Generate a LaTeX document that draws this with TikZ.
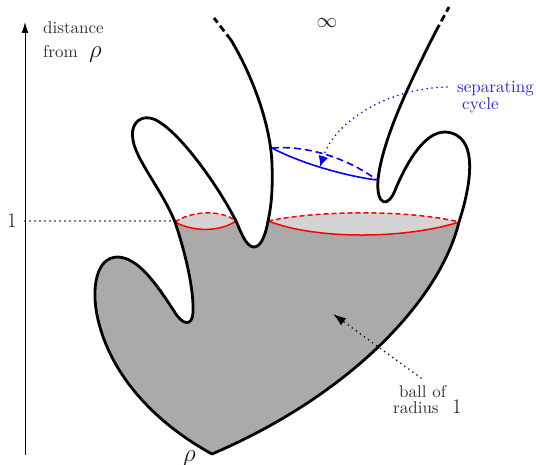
\documentclass[tikz,border=0pt]{standalone}
\usepackage{fontspec}
\newfontfamily\tenrm[Extension=.otf]{lmroman10-regular}
\usetikzlibrary{arrows.meta}
\tikzset{
  outline/.style={line width=2.8pt, line join=round, line cap=round},
  topdash/.style={line width=2.8pt, dash pattern=on 7pt off 4pt},
  redsolid/.style={red, line width=1.5pt},
  reddash/.style={red, line width=1.5pt, dash pattern=on 5pt off 3pt},
  bluesolid/.style={blue, line width=1.6pt},
  bluedash/.style={blue, line width=1.6pt, dash pattern=on 7pt off 4pt},
  dotline/.style={line width=1.8pt, dash pattern=on 0pt off 5pt, line cap=round},
  lbl/.style={font=\tenrm\fontsize{17}{20}\selectfont, text=black!80, inner sep=0pt, anchor=base west},
  bigsym/.style={font=\fontsize{24.88}{30}\selectfont, text=black!90, inner sep=0pt},
  midsym/.style={font=\fontsize{20.74}{24}\selectfont, text=black!90, inner sep=0pt},
}
\definecolor{ballgray}{gray}{0.665}
\definecolor{lensgray}{gray}{0.83}
\begin{document}
\begin{tikzpicture}[x=1pt,y=-1pt]
\useasboundingbox (0,0) rectangle (536,465);
% ball fill
\fill[ballgray] (175,222) .. controls (193,232) and (220,232) .. (236,221)
  .. controls (241,232) and (246,247) .. (254,247)
  .. controls (260,247) and (265,238) .. (268,221)
  .. controls (320,241) and (410,238) .. (459,222)
  .. controls (440,300) and (350,395) .. (212,454)
  .. controls (150,420) and (108,370) .. (97,315)
  .. controls (92,290) and (95,257) .. (118,257)
  .. controls (138,258) and (155,282) .. (174,311)
  .. controls (182,325) and (192,327) .. (193,313)
  .. controls (194,290) and (186,255) .. (175,222) -- cycle;
% lenses
\fill[lensgray] (175,222) .. controls (193,232) and (220,232) .. (236,221) .. controls (222,210) and (193,210) .. (175,222);
\fill[lensgray] (268,221) .. controls (320,241) and (410,238) .. (459,222) .. controls (410,210) and (320,210) .. (268,221);
\draw[redsolid] (175,222) .. controls (193,232) and (220,232) .. (236,221);
\draw[reddash] (175,222) .. controls (193,210) and (222,210) .. (236,221);
\draw[redsolid] (268,221) .. controls (320,241) and (410,238) .. (459,222);
\draw[reddash] (268,221) .. controls (320,210) and (410,210) .. (459,222);
% outline, left strand
\draw[outline] (231,40) .. controls (252,75) and (271,125) .. (272,165)
  .. controls (273,190) and (271,208) .. (268,221)
  .. controls (265,238) and (260,247) .. (254,247)
  .. controls (246,247) and (241,232) .. (236,221)
  .. controls (215,180) and (172,122) .. (150,118)
  .. controls (138,116) and (130,126) .. (133,140)
  .. controls (136,160) and (162,190) .. (175,222)
  .. controls (186,255) and (194,290) .. (193,313)
  .. controls (192,327) and (182,325) .. (174,311)
  .. controls (155,282) and (138,258) .. (118,257)
  .. controls (95,257) and (92,290) .. (97,315)
  .. controls (108,370) and (150,420) .. (212,454);
% outline, right strand
\draw[outline] (436,31) .. controls (410,82) and (382,140) .. (378,180)
  .. controls (376,205) and (388,210) .. (396,188)
  .. controls (408,160) and (425,132) .. (445,132)
  .. controls (480,134) and (471,185) .. (459,222)
  .. controls (440,300) and (350,395) .. (212,454);
\draw[topdash] (231,40) -- (214,18);
\draw[topdash] (436,31) -- (449,7);
% separating cycle
\coordinate (b1) at (272,148);
\coordinate (b2) at (377,180);
\draw[bluesolid] (b1) .. controls (300,163) and (345,176) .. (b2);
\draw[bluedash] (b1) .. controls (310,145) and (350,160) .. (b2);
\coordinate (sepfrom) at (447,87);
\coordinate (septo) at (320,167);
\draw[blue, dotline, -{Latex[length=11pt,width=10pt]}] (sepfrom) .. controls (390,88) and (335,120) .. (septo);
% axis
\coordinate (ax0) at (25,455);
\coordinate (ax1) at (25,22);
\draw[line width=1pt, -{Latex[length=11pt,width=7pt]}] (ax0) -- (ax1);
\coordinate (one) at (25,221);
\coordinate (oneend) at (172,221);
\draw[dotline] (one) -- (oneend);
% ball arrow
\coordinate (ballfrom) at (421,378);
\coordinate (ballto) at (333,314);
\draw[dotline, -{Latex[length=13pt,width=9pt]}] (ballfrom) -- (ballto);
% labels
\node[lbl] (t1) at (43,34) {distance};
\node[lbl] (t2) at (43,58) {from};
\node[bigsym, anchor=base west] (t3) at (89,58) {$\rho$};
\node[midsym] (inf) at (327,23) {$\infty$};
\node[bigsym, anchor=base west] (rho) at (183,461) {$\rho$};
\node[midsym, anchor=base] (l1) at (12,228) {1};
\node[lbl] (b1t) at (399,397) {ball of};
\node[lbl] (b2t) at (393,413) {radius};
\node[midsym, anchor=base west] (b3t) at (452,413) {1};
\node[lbl, text=blue!85] (s1) at (457,93) {separating};
\node[lbl, text=blue!85] (s2) at (462,110) {cycle};
\end{tikzpicture}
\end{document}
